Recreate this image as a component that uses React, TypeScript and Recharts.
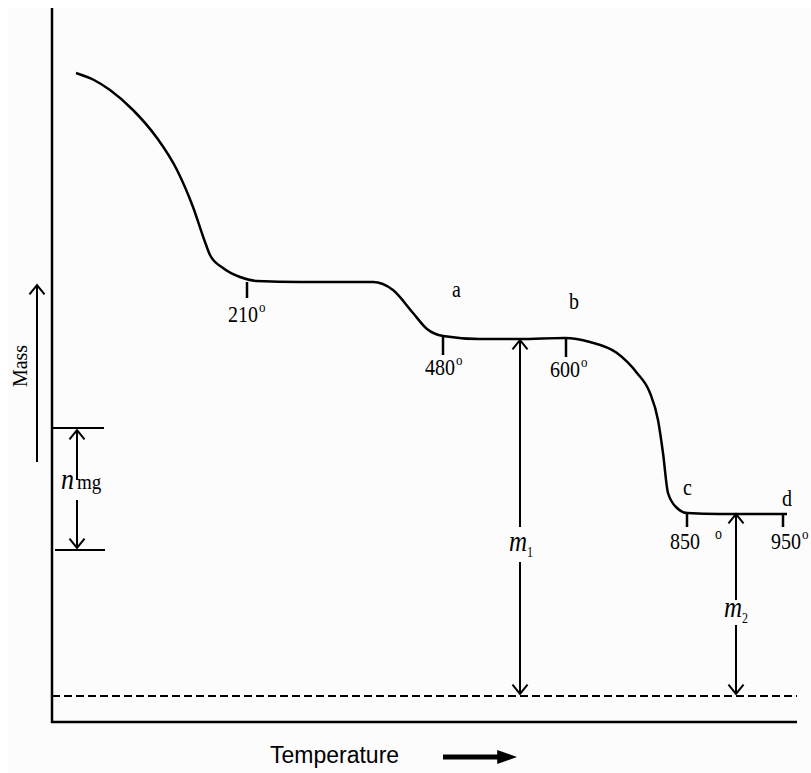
import React from 'react';
import { ComposedChart, Line, XAxis, YAxis, ReferenceLine, ReferenceDot } from 'recharts';

// Thermogravimetric curve (arbitrary temperature / mass units)
const curveTemp = [24, 42, 58, 81, 105, 125, 141, 153, 158, 171, 188, 205, 248, 321, 341, 361, 375, 391, 428, 468, 513, 538, 565, 585, 598, 606, 611, 616, 625, 635, 668, 735];
const curveMass = [649, 642, 632, 612, 584, 552, 515, 480, 467, 454, 445, 441, 440, 440, 432, 409, 393, 386, 383, 383, 384, 380, 369, 349, 329, 302, 269, 229, 214, 209, 208, 208];

const baselineMass = 26;
const tempMax = 745;
const massMax = 714;

// temperature markers on the curve
const tickTemps = [195, 391, 514, 635, 731];
const tickTopMass = [440, 385, 384, 208, 208];
const tickBottomMass = [424, 367, 365, 195, 195];
const tickLabels = ['210', '480', '600', '850', '950'];
const tickLabelTemps = [176, 373, 498, 618, 719];
const tickLabelMass = [400, 347, 345, 173, 173];
const tickLabelDegree = [true, true, true, false, true];
const looseDegree = { t: 663, m: 183 };

// point letters
const letters = ['a', 'b', 'c', 'd'];
const letterTemps = [400, 517, 631, 730];
const letterMass = [425, 413, 227, 216];

// mass arrows
const m1 = { t: 468, top: 382, gapTop: 195, gapBottom: 160, bottom: 28, labelT: 457, labelM: 171 };
const m2 = { t: 684, top: 208, gapTop: 122, gapBottom: 97, bottom: 28, labelT: 672, labelM: 105 };
const nmg = { top: 294, bottom: 172, t1: 1, t2: 52, arrowT: 25, gapTop: 242, gapBottom: 222, labelT: 9, labelM: 233 };

const data = curveTemp.map((t, i) => ({ t, mass: curveMass[i] }));

const SERIF = '"Liberation Serif", "Times New Roman", serif';
const SANS = '"Liberation Sans", Arial, sans-serif';

const arrowShape = (heads: 'start' | 'end' | 'none', size = 12, filled = false, width = 2, spread = 0.68) => (p: any) => {
  const { x1, y1, x2, y2 } = p;
  const head = (x: number, y: number, a: number) => {
    const ax = x - size * Math.cos(a - spread);
    const ay = y - size * Math.sin(a - spread);
    const bx = x - size * Math.cos(a + spread);
    const by = y - size * Math.sin(a + spread);
    return filled ? (
      <polygon points={`${ax},${ay} ${x},${y} ${bx},${by}`} fill="#000" stroke="none" />
    ) : (
      <polyline points={`${ax},${ay} ${x},${y} ${bx},${by}`} fill="none" stroke="#000" strokeWidth={width} />
    );
  };
  const ang = Math.atan2(y2 - y1, x2 - x1);
  let lx2 = x2, ly2 = y2;
  if (filled && heads === 'end') {
    lx2 = x2 - size * 0.8 * Math.cos(ang);
    ly2 = y2 - size * 0.8 * Math.sin(ang);
  }
  return (
    <g>
      <line x1={x1} y1={y1} x2={lx2} y2={ly2} stroke="#000" strokeWidth={width} />
      {heads === 'end' && head(x2, y2, ang)}
      {heads === 'start' && head(x1, y1, ang + Math.PI)}
    </g>
  );
};

const textShape = (content: React.ReactNode, opts: any = {}) => (p: any) => {
  const stretch = opts.stretch ?? 1.14;
  let transform: string | undefined;
  if (opts.rotate) {
    transform = `rotate(${opts.rotate} ${p.cx} ${p.cy}) translate(${p.cx} ${p.cy}) scale(1 ${stretch}) translate(${-p.cx} ${-p.cy})`;
  } else if (stretch !== 1) {
    transform = `translate(${p.cx} ${p.cy}) scale(1 ${stretch}) translate(${-p.cx} ${-p.cy})`;
  }
  return (
    <text
      x={p.cx}
      y={p.cy}
      fontFamily={opts.family || SERIF}
      fontSize={opts.size || 20}
      textAnchor={opts.anchor || 'start'}
      fill="#000"
      transform={transform}
      dominantBaseline={opts.baseline || 'alphabetic'}
    >
      {content}
    </text>
  );
};

const seg = (t1: number, m1v: number, t2: number, m2v: number) => [
  { x: t1, y: m1v },
  { x: t2, y: m2v },
];

export default function App() {
  return (
    <div style={{ position: 'absolute', left: 8, top: 8, width: 803, height: 765, background: '#fcfcfc' }}>
      <ComposedChart
        width={803}
        height={765}
        data={data}
        margin={{ top: 0, right: 14, bottom: 51, left: 44 }}
      >
        <XAxis
          type="number"
          dataKey="t"
          domain={[0, tempMax]}
          allowDataOverflow
          tick={false}
          tickLine={false}
          axisLine={false}
          height={0}
        />
        <YAxis
          type="number"
          domain={[0, massMax]}
          allowDataOverflow
          tick={false}
          tickLine={false}
          axisLine={false}
          width={0}
        />

        {/* axes */}
        <ReferenceLine segment={seg(0, -1, 0, massMax + 1)} stroke="#000" strokeWidth={2.5} ifOverflow="visible" />
        <ReferenceLine segment={seg(-1, 0, tempMax, 0)} stroke="#000" strokeWidth={2.5} ifOverflow="visible" />

        {/* baseline (zero mass) */}
        <ReferenceLine
          segment={seg(0, baselineMass, tempMax, baselineMass)}
          stroke="#000"
          strokeWidth={2}
          strokeDasharray="8 4"
          ifOverflow="visible"
        />

        <Line
          type="monotone"
          dataKey="mass"
          stroke="#000"
          strokeWidth={2.5}
          dot={false}
          activeDot={false}
          isAnimationActive={false}
        />

        {/* temperature marker ticks */}
        {tickTemps.map((t, i) => (
          <ReferenceLine
            key={'tk' + i}
            segment={seg(t, tickTopMass[i], t, tickBottomMass[i])}
            stroke="#000"
            strokeWidth={2.5}
            ifOverflow="visible"
          />
        ))}
        {tickLabels.map((lab, i) => (
          <ReferenceDot
            key={'tl' + i}
            x={tickLabelTemps[i]}
            y={tickLabelMass[i]}
            r={1}
            ifOverflow="visible"
            shape={textShape(
              <>
                {lab}
                {tickLabelDegree[i] && (
                  <tspan fontSize={13} dx={1} dy={-9}>
                    o
                  </tspan>
                )}
              </>
            )}
          />
        ))}
        <ReferenceDot
          x={looseDegree.t}
          y={looseDegree.m}
          r={1}
          ifOverflow="visible"
          shape={textShape('o', { size: 14 })}
        />

        {letters.map((l, i) => (
          <ReferenceDot
            key={'lt' + i}
            x={letterTemps[i]}
            y={letterMass[i]}
            r={1}
            ifOverflow="visible"
            shape={textShape(l)}
          />
        ))}

        {/* m1 */}
        <ReferenceLine segment={seg(m1.t, m1.gapTop, m1.t, m1.top)} ifOverflow="visible" shape={arrowShape('end')} />
        <ReferenceLine segment={seg(m1.t, m1.gapBottom, m1.t, m1.bottom)} ifOverflow="visible" shape={arrowShape('end')} />
        <ReferenceDot
          x={m1.labelT}
          y={m1.labelM}
          r={1}
          ifOverflow="visible"
          shape={textShape(
            <>
              <tspan fontStyle="italic" fontSize={25}>m</tspan>
              <tspan fontSize={12} dy={5}>1</tspan>
            </>
          )}
        />

        {/* m2 */}
        <ReferenceLine segment={seg(m2.t, m2.gapTop, m2.t, m2.top)} ifOverflow="visible" shape={arrowShape('end')} />
        <ReferenceLine segment={seg(m2.t, m2.gapBottom, m2.t, m2.bottom)} ifOverflow="visible" shape={arrowShape('end')} />
        <ReferenceDot
          x={m2.labelT}
          y={m2.labelM}
          r={1}
          ifOverflow="visible"
          shape={textShape(
            <>
              <tspan fontStyle="italic" fontSize={25}>m</tspan>
              <tspan fontSize={12} dy={5}>2</tspan>
            </>
          )}
        />

        {/* n mg */}
        <ReferenceLine segment={seg(nmg.t1, nmg.top, nmg.t2, nmg.top)} stroke="#000" strokeWidth={2} ifOverflow="visible" />
        <ReferenceLine segment={seg(nmg.t1 + 2, nmg.bottom, nmg.t2 + 1, nmg.bottom)} stroke="#000" strokeWidth={2} ifOverflow="visible" />
        <ReferenceLine segment={seg(nmg.arrowT, nmg.gapTop, nmg.arrowT, nmg.top - 2)} ifOverflow="visible" shape={arrowShape('end')} />
        <ReferenceLine segment={seg(nmg.arrowT, nmg.gapBottom, nmg.arrowT, nmg.bottom + 2)} ifOverflow="visible" shape={arrowShape('end')} />
        <ReferenceDot
          x={nmg.labelT}
          y={nmg.labelM}
          r={1}
          ifOverflow="visible"
          shape={textShape(
            <>
              <tspan fontStyle="italic" fontSize={26}>n</tspan>
              <tspan fontSize={19} dx={3}>mg</tspan>
            </>
          )}
        />

        {/* Mass axis title and arrow */}
        <ReferenceLine segment={seg(-15, 260, -15, 437)} ifOverflow="visible" shape={arrowShape('end')} />
        <ReferenceDot
          x={-32}
          y={356}
          r={1}
          ifOverflow="visible"
          shape={textShape('Mass', { anchor: 'middle', rotate: -90, baseline: 'central', size: 20, stretch: 1 })}
        />

        {/* Temperature axis title and arrow */}
        <ReferenceDot
          x={218}
          y={-41}
          r={1}
          ifOverflow="visible"
          shape={textShape('Temperature', { family: SANS, size: 23, stretch: 1 })}
        />
        <ReferenceLine segment={seg(391, -35, 465, -35)} ifOverflow="visible" shape={arrowShape('end', 21, true, 5, 0.34)} />
      </ComposedChart>
    </div>
  );
}
